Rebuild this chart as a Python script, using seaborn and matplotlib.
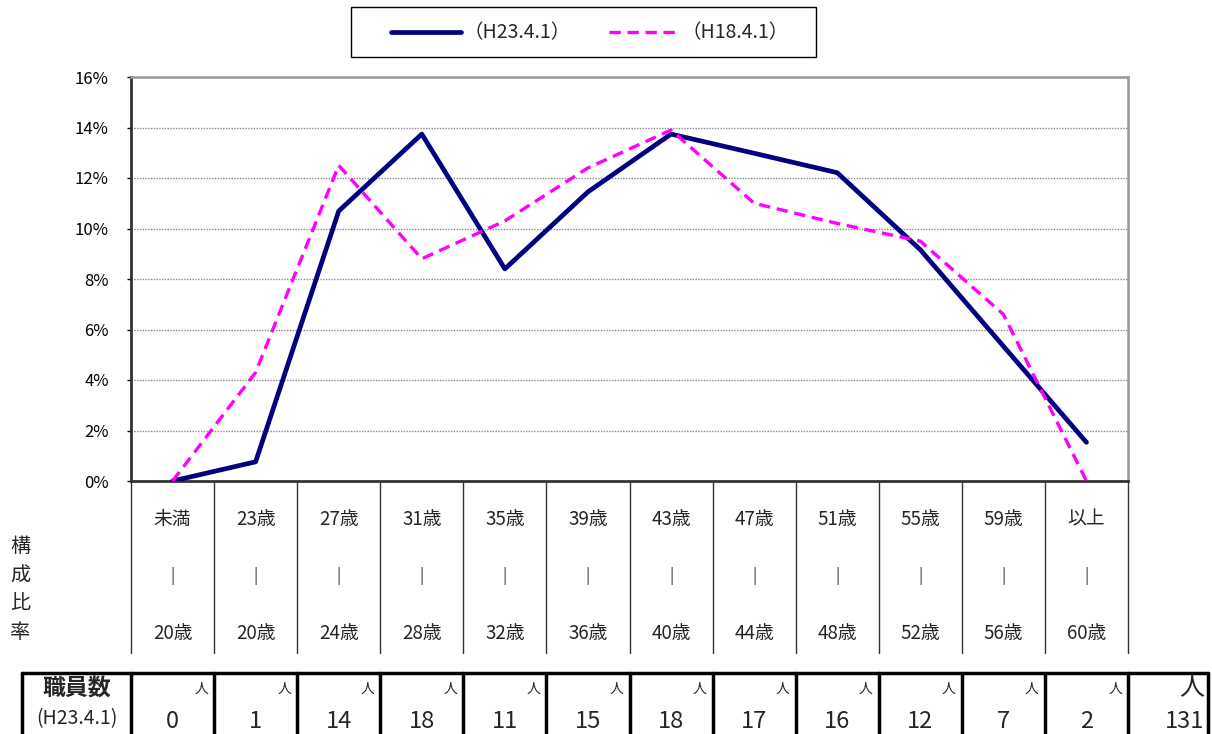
import numpy as np
import pandas as pd
import seaborn as sns
import matplotlib
matplotlib.use("Agg")
import matplotlib.pyplot as plt
import matplotlib.transforms as mtransforms
from matplotlib.patches import Rectangle

# Age bands: upper row / lower row of the category label
top_labels = ["未満", "23歳", "27歳", "31歳", "35歳", "39歳", "43歳", "47歳", "51歳", "55歳", "59歳", "以上"]
bottom_labels = ["20歳", "20歳", "24歳", "28歳", "32歳", "36歳", "40歳", "44歳", "48歳", "52歳", "56歳", "60歳"]

# Staff count per band (H23.4.1) and total
staff_h23 = [0, 1, 14, 18, 11, 15, 18, 17, 16, 12, 7, 2]
total_h23 = 131

# Composition ratio (%)
share_h23 = [0.0, 0.76, 10.69, 13.74, 8.40, 11.45, 13.74, 12.98, 12.21, 9.16, 5.34, 1.53]
share_h18 = [0.0, 4.3, 12.5, 8.8, 10.3, 12.4, 13.9, 11.0, 10.2, 9.5, 6.6, 0.0]

series_labels = ["（H23.4.1）", "（H18.4.1）"]
y_ticks = [0, 2, 4, 6, 8, 10, 12, 14, 16]

positions = np.arange(len(top_labels))

sns.set_style("white")
plt.rcParams['font.family'] = ['Noto Sans CJK JP', 'DejaVu Sans']

W, H = 1212, 734
L, R, T, B = 131, 1128, 77, 481

fig = plt.figure(figsize=(W / 100, H / 100), dpi=100)
ax = fig.add_axes([L / W, 1 - B / H, (R - L) / W, (B - T) / H])

sns.lineplot(x=positions, y=share_h23, color="#000080", lw=3.4, ax=ax,
             label=series_labels[0], zorder=4)
sns.lineplot(x=positions, y=share_h18, color="#FF00FF", lw=2.4, ax=ax,
             linestyle=(0, (3.4, 2.0)), label=series_labels[1], zorder=5)

ax.set_xlim(-0.5, len(top_labels) - 0.5)
ax.set_ylim(0, 16)
ax.set_yticks(y_ticks)
ax.set_yticklabels([f"{v}%" for v in y_ticks], fontsize=12)
ax.set_xticks([])
ax.set_xlabel("")
ax.set_ylabel("")
ax.tick_params(axis='y', left=True, length=3, width=1, pad=13, colors="black")
ax.yaxis.grid(True, linestyle=(0, (1, 1)), color="#888888", lw=1)
ax.set_axisbelow(True)

for side in ["left", "bottom"]:
    ax.spines[side].set_color("#333333")
    ax.spines[side].set_linewidth(2)
for side in ["top", "right"]:
    ax.spines[side].set_color("#999999")
    ax.spines[side].set_linewidth(1.8)
ax.get_legend().remove()

# category labels under the axis, with separators
trans = mtransforms.blended_transform_factory(ax.transData, ax.transAxes)
ah = B - T
for x in np.arange(-0.5, len(top_labels), 1):
    ax.plot([x, x], [0, -(653 - B) / ah], transform=trans, color="#333333",
            lw=1, clip_on=False)
for i, (tl, bl) in enumerate(zip(top_labels, bottom_labels)):
    ax.text(i, -(519 - B) / ah, tl, transform=trans, ha="center", va="center", fontsize=13.5)
    ax.text(i, -(576 - B) / ah, "|", transform=trans, ha="center", va="center",
            fontsize=11, color="#333333")
    ax.text(i, -(634 - B) / ah, bl, transform=trans, ha="center", va="center", fontsize=13.5)

# vertical y label
for ch, yy in zip("構成比率", [547, 576, 604, 632]):
    fig.text(20 / W, 1 - yy / H, ch, ha="center", va="center", fontsize=14.5)

# overlay in pixel coords for the legend box and the table
tax = fig.add_axes([0, 0, 1, 1])
tax.set_xlim(0, W)
tax.set_ylim(H, 0)
tax.axis("off")
tax.patch.set_alpha(0)

tax.add_patch(Rectangle((351, 7), 465, 50, facecolor="none", edgecolor="black", lw=1))
handles, labels = ax.get_legend_handles_labels()
fig.legend(handles, labels, loc="center", bbox_to_anchor=(590 / W, 1 - 33 / H),
           ncol=2, frameon=False, handlelength=3.6, handletextpad=0.1,
           columnspacing=2.0, fontsize=14)

# staff count table
col_w = (R - L) / len(top_labels)
edges = [22] + [L + i * col_w for i in range(len(top_labels) + 1)] + [1208]
tax.plot([edges[0], edges[-1]], [673, 673], color="black", lw=2.5, clip_on=False)
for e in edges:
    tax.plot([e, e], [673, 745], color="black", lw=2.5, clip_on=False)

tax.text((22 + L) / 2, 689, "職員数", ha="center", va="center", fontsize=16.5, fontweight="bold")
tax.text((22 + L) / 2, 719, "(H23.4.1)", ha="center", va="center", fontsize=14)
for i, n in enumerate(staff_h23):
    x0 = L + i * col_w
    tax.text(x0 + col_w - 6, 689, "人", ha="right", va="center", fontsize=10)
    tax.text(x0 + col_w / 2, 733, str(n), ha="center", va="bottom", fontsize=17)
tax.text(1204, 688, "人", ha="right", va="center", fontsize=18)
tax.text(1204, 733, str(total_h23), ha="right", va="bottom", fontsize=17)

fig.savefig("out.png", dpi=100)
